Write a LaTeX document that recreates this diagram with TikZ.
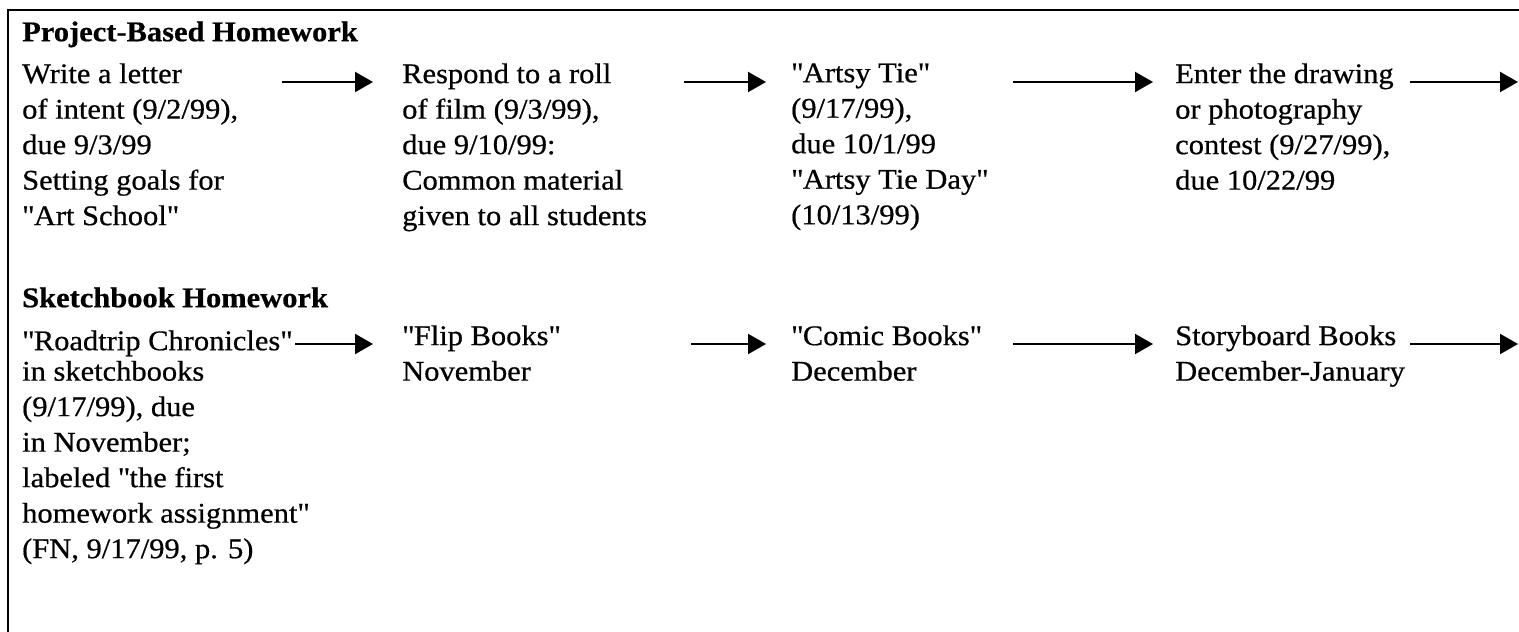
\documentclass[tikz,border=0pt]{standalone}
\usepackage{fontspec}
\setmainfont{Liberation Serif}[FakeStretch=1.07, FakeBold=0.6]
\usetikzlibrary{arrows.meta}

% straight double quote (not turned into a curly one)
\newcommand\dq{\textquotedbl}

\tikzset{
  frame/.style={line width=2.5pt},
  % node placed at the baseline of its first line
  txt/.style={anchor=north west, align=left, inner sep=0pt, yshift=24.85pt,
              font=\fontsize{28.5}{35.5}\selectfont,
              execute at begin node=\strut},
  head/.style={txt, font=\fontsize{28.5}{35.5}\selectfont\bfseries},
  flow/.style={line width=2.2pt, -{Triangle[length=18pt,width=20pt]}},
}

\begin{document}
\begin{tikzpicture}[x=1pt, y=-1pt]
  \useasboundingbox (0,0) rectangle (1519,632);

  % open frame: top rule and left rule
  \draw[frame] (8,632) -- (8,10) -- (1519,10);

  % ---- project-based homework ----
  \node[head] (h1) at (22,41) {Project-Based Homework};
  \node[txt] (p1) at (22,88) {Write a letter\\of intent (9/2/99),\\due 9/3/99\\Setting goals for\\\dq Art School\dq};
  \node[txt] (p2) at (402,88) {Respond to a roll\\of film (9/3/99),\\due 9/10/99:\\Common material\\given to all students};
  \node[txt] (p3) at (791,88) {\dq Artsy Tie\dq\\(9/17/99),\\due 10/1/99\\\dq Artsy Tie Day\dq\\(10/13/99)};
  \node[txt] (p4) at (1175,88) {Enter the drawing\\or photography\\contest (9/27/99),\\due 10/22/99};

  \coordinate (pa1s) at (282,82);  \coordinate (pa1e) at (373,82);
  \coordinate (pa2s) at (684,82);  \coordinate (pa2e) at (766,82);
  \coordinate (pa3s) at (1013,82); \coordinate (pa3e) at (1153,82);
  \coordinate (pa4s) at (1410,82); \coordinate (pa4e) at (1518,82);
  \draw[flow] (pa1s) -- (pa1e);
  \draw[flow] (pa2s) -- (pa2e);
  \draw[flow] (pa3s) -- (pa3e);
  \draw[flow] (pa4s) -- (pa4e);

  % ---- sketchbook homework ----
  \node[head] (h2) at (22,307) {Sketchbook Homework};
  \node[txt] (s1t) at (22,350) {\dq Roadtrip Chronicles\dq};
  \node[txt] (s1) at (22,385.5) {in sketchbooks\\(9/17/99), due\\in November;\\labeled \dq the first\\homework assignment\dq\\(FN, 9/17/99, p. 5)};
  \node[txt] (s2) at (402,350) {\dq Flip Books\dq\\November};
  \node[txt] (s3) at (791,350) {\dq Comic Books\dq\\December};
  \node[txt] (s4) at (1175,350) {Storyboard Books\\December-January};

  \coordinate (sa1e) at (373,344);
  \coordinate (sa2s) at (691,344);  \coordinate (sa2e) at (766,344);
  \coordinate (sa3s) at (1013,344); \coordinate (sa3e) at (1153,344);
  \coordinate (sa4s) at (1410,344); \coordinate (sa4e) at (1518,344);
  \draw[flow] ([xshift=3pt]s1t.east |- sa1e) -- (sa1e);
  \draw[flow] (sa2s) -- (sa2e);
  \draw[flow] (sa3s) -- (sa3e);
  \draw[flow] (sa4s) -- (sa4e);
\end{tikzpicture}
\end{document}
